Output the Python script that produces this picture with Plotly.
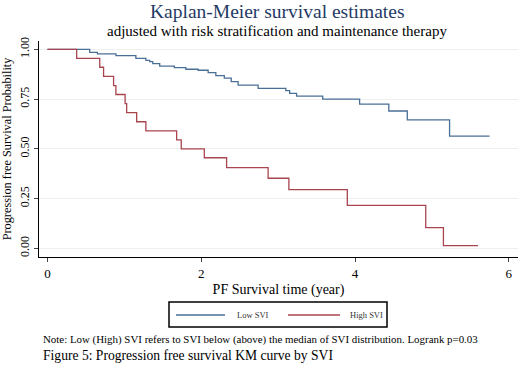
import plotly.graph_objects as go

low_t = [0, 0.55, 0.65, 0.89, 1.15, 1.28, 1.33, 1.37, 1.46, 1.65, 1.80, 1.96, 2.09, 2.19, 2.30,
         2.39, 2.48, 2.74, 3.10, 3.15, 3.24, 3.58, 4.06, 4.44, 4.68, 5.23, 5.75]
low_s = [1.0, 0.985, 0.977, 0.968, 0.955, 0.945, 0.938, 0.928, 0.916, 0.908, 0.900, 0.895, 0.883,
         0.868, 0.855, 0.838, 0.820, 0.804, 0.792, 0.779, 0.765, 0.750, 0.725, 0.690, 0.645, 0.564, 0.564]
high_t = [0, 0.38, 0.68, 0.73, 0.86, 0.89, 1.01, 1.03, 1.16, 1.28, 1.68, 1.74, 2.04, 2.33, 2.87,
          3.14, 3.90, 4.92, 5.15, 5.60]
high_s = [1.0, 0.955, 0.91, 0.864, 0.818, 0.773, 0.727, 0.682, 0.636, 0.59, 0.545, 0.50, 0.455,
          0.405, 0.352, 0.295, 0.216, 0.104, 0.013, 0.013]
x_ticks = [0, 2, 4, 6]
y_ticks = [0, 0.25, 0.5, 0.75, 1.0]
y_labels = ["0.00", "0.25", "0.50", "0.75", "1.00"]
series_names = ["Low SVI", "High SVI"]

SERIF = "Liberation Serif, Times New Roman, serif"
BLUE = "#4a6f96"
RED = "#a8454f"

# plot area in pixels
L, R, T, B = 39, 518, 41, 257
W, H = R - L, B - T


def px(x):
    return (x - L) / W


def py(y):
    return (B - y) / H


fig = go.Figure()
fig.add_trace(go.Scatter(x=low_t, y=low_s, mode="lines", line=dict(color=BLUE, width=1.3, shape="hv"),
                         name=series_names[0]))
fig.add_trace(go.Scatter(x=high_t, y=high_s, mode="lines", line=dict(color=RED, width=1.3, shape="hv"),
                         name=series_names[1]))

fig.update_layout(
    width=520, height=366,
    margin=dict(l=L, r=520 - R, t=T, b=366 - B, autoexpand=False),
    paper_bgcolor="white", plot_bgcolor="white",
    font=dict(family=SERIF, color="black"),
    showlegend=False,
)
fig.update_xaxes(range=[-0.11, 6.12], tickvals=x_ticks, ticks="outside", ticklen=4, automargin=False,
                 showline=True, linecolor="black", linewidth=1.2, showgrid=False, zeroline=False,
                 tickfont=dict(size=13, family=SERIF),
                 title=dict(text="PF Survival time (year)", font=dict(size=14, family=SERIF), standoff=4))
fig.update_yaxes(range=[-0.044, 1.042], tickvals=y_ticks, ticktext=y_labels, tickangle=-90, automargin=False,
                 ticks="outside", ticklen=4, showline=True, linecolor="black", linewidth=1.2,
                 showgrid=True, gridcolor="#efefef", gridwidth=1, zeroline=False,
                 tickfont=dict(size=12, family=SERIF),
                 title=dict(text="Progression free Survival Probability", font=dict(size=12.3, family=SERIF),
                            standoff=3))

# manual legend
fig.add_shape(type="rect", xref="paper", yref="paper", x0=px(169), x1=px(387), y0=py(302), y1=py(327),
              line=dict(color="black", width=1.5), fillcolor="white")
for (x0, x1, tx, col, name) in [(176, 225, 235, BLUE, series_names[0]), (288, 340, 348, RED, series_names[1])]:
    fig.add_shape(type="line", xref="paper", yref="paper", x0=px(x0), x1=px(x1), y0=py(315), y1=py(315),
                  line=dict(color=col, width=1.3))
    fig.add_annotation(text=name, xref="paper", yref="paper", x=px(tx), y=py(315), xanchor="left",
                       yanchor="middle", showarrow=False, font=dict(size=8.5, family=SERIF, color="#333333"))

fig.add_annotation(text="Kaplan-Meier survival estimates", xref="paper", yref="paper",
                   x=px(277), y=py(12), xanchor="center", yanchor="middle",
                   showarrow=False, font=dict(size=19.5, family=SERIF, color="#1f3a66"))
fig.add_annotation(text="adjusted with risk stratification and maintenance therapy", xref="paper", yref="paper",
                   x=px(277), y=py(31), xanchor="center", yanchor="middle",
                   showarrow=False, font=dict(size=15, family=SERIF, color="black"))
fig.add_annotation(text="Note: Low (High) SVI refers to SVI below (above) the median of SVI distribution. Logrank p=0.03",
                   xref="paper", yref="paper", x=px(41), y=py(339),
                   xanchor="left", yanchor="middle", showarrow=False,
                   font=dict(size=10.9, family=SERIF, color="black"))
fig.add_annotation(text="Figure 5: Progression free survival KM curve by SVI",
                   xref="paper", yref="paper", x=px(41), y=py(355),
                   xanchor="left", yanchor="middle", showarrow=False,
                   font=dict(size=13.6, family=SERIF, color="black"))

fig.write_html("out.html", post_script="document.body.style.margin='0';",
               config={"displayModeBar": False})
